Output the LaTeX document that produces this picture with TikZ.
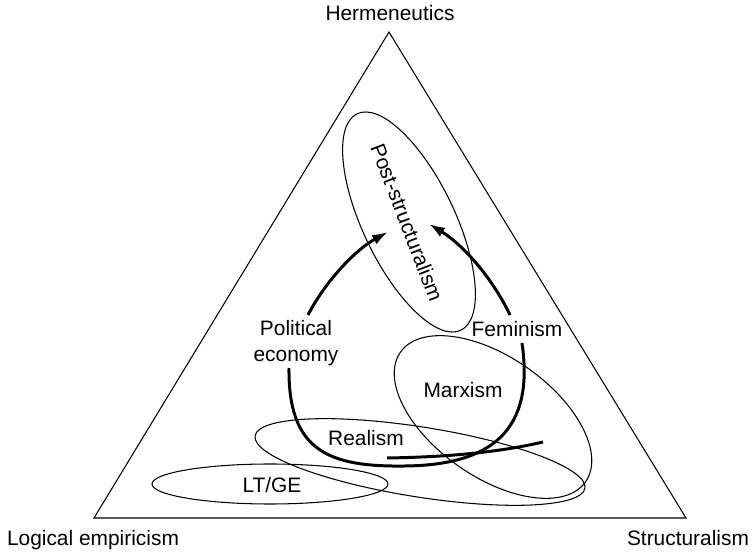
\documentclass[tikz,border=0pt]{standalone}
\usepackage{fontspec}
\setmainfont{Liberation Sans}
\usetikzlibrary{arrows.meta}

\begin{document}
\begin{tikzpicture}[x=0.02cm, y=0.02cm,
	font=\fontsize{11.9}{14.7}\selectfont,
	thin line/.style={line width=0.6pt},
	move/.style={line width=1.7pt},
	lbl/.style={inner sep=0pt, anchor=base}]
	\useasboundingbox (0,0) rectangle (752,552);

	% corners of the triangle
	\coordinate (herm) at (389,520);
	\coordinate (logemp) at (94,34);
	\coordinate (struct) at (686,34);
	\draw[thin line] (herm) -- (logemp) -- (struct) -- cycle;

	\node[lbl] (hermtext) at (390,531) {Hermeneutics};
	\node[lbl] (logtext) at (93,6) {Logical empiricism};
	\node[lbl] (structtext) at (688,6) {Structuralism};

	% the schools
	\draw[thin line, rotate around={-64.4:(409,330)}] (409,330) ellipse [x radius=120, y radius=46];
	\draw[thin line, rotate around={-35:(493,135)}] (493,135) ellipse [x radius=113, y radius=60];
	\draw[thin line, rotate around={-9:(420,90)}] (420,90) ellipse [x radius=167, y radius=35];
	\draw[thin line] (270,68) ellipse [x radius=118, y radius=20];

	\node[rotate=-69, inner sep=0pt] (poststruct) at (407,329.5) {Post-structuralism};
	\node[align=center, inner sep=0pt] (polecon) at (296,208.5) {Political\\economy};
	\node[lbl] (femin) at (517,215.5) {Feminism};
	\node[lbl] (marx) at (463,154) {Marxism};
	\node[lbl] (real) at (366,106) {Realism};
	\node[lbl] (ltge) at (272,59) {LT/GE};

	% ends of the moves
	\coordinate (pe-top) at (308,237);
	\coordinate (pe-bot) at (289,184);
	\coordinate (fe-top) at (510,237);
	\coordinate (fe-bot) at (522,209);
	\coordinate (ps-left) at (388,320);
	\coordinate (ps-right) at (429,328);
	\coordinate (re-left) at (387,94);
	\coordinate (re-right) at (543,110);

	\draw[move, -{Latex[length=9pt,width=6pt]}] (pe-top) .. controls (325,270) and (355,302) .. (ps-left);
	\draw[move, -{Latex[length=9pt,width=6pt]}] (fe-top) .. controls (492,275) and (462,308) .. (ps-right);
	\draw[move] (pe-bot) .. controls (288,100) and (330,85) .. (405,86) .. controls (490,87) and (535,120) .. (fe-bot);
	\draw[move] (re-left) .. controls (450,95) and (500,100) .. (re-right);
\end{tikzpicture}
\end{document}
